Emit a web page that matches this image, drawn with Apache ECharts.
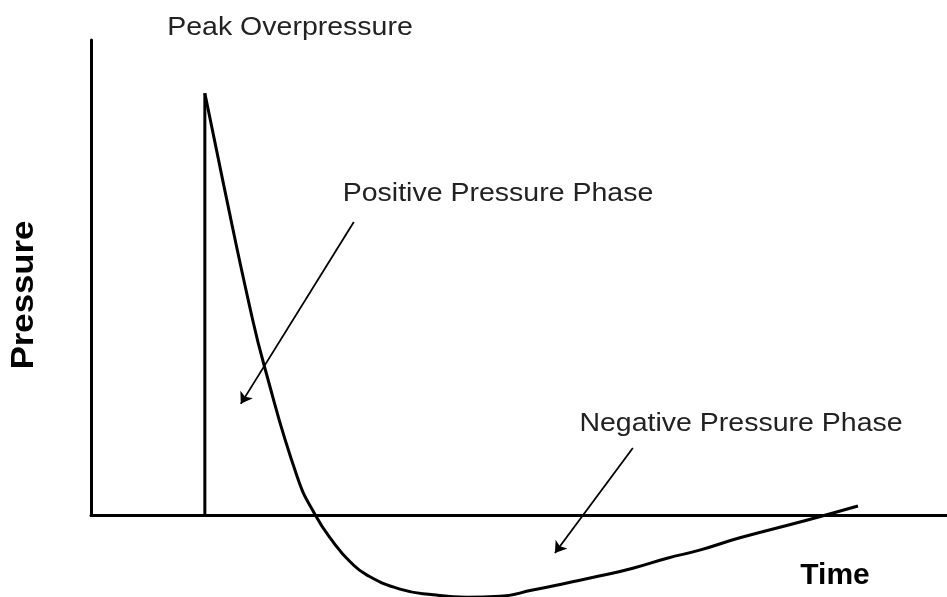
<!DOCTYPE html>
<html>
<head>
<meta charset="utf-8">
<script src="https://cdn.jsdelivr.net/npm/echarts@6/dist/echarts.min.js"></script>
<style>
  html, body { margin: 0; padding: 0; background: #fff; }
  #chart { width: 947px; height: 597px; }
</style>
</head>
<body>
<div id="chart"></div>
<script>
// blast wave values (time 0-100, pressure 0-100 above ambient)
var arrivalTime = 13.3;
var peakPressure = 88.8;
var timeValues = [13.3, 15.5, 18.5, 20.3, 24.1, 26.2, 28.3, 30.3, 32.2, 36.1, 40.0,
  43.9, 47.8, 51.6, 55.6, 59.5, 63.3, 67.3, 71.1, 75.8, 83.6, 89.6];
var pressureValues = [88.8, 69.5, 44.2, 31.0, 8.0, 0, -5.7, -9.9, -12.6, -15.6, -16.8,
  -17.3, -17.1, -15.8, -14.3, -12.8, -11.2, -9.1, -7.4, -4.8, -1.1, 1.9];

// annotation arrows, tail -> head
var arrowFrom = [[30.7, 61.7], [63.3, 14.1]];
var arrowTo = [[17.5, 23.4], [54.2, -8.0]];

var chartDom = document.getElementById('chart');
var myChart = echarts.init(chartDom);
var option;

var curve = timeValues.map(function (t, i) { return [t, pressureValues[i]]; });
var arrows = arrowFrom.map(function (a, i) { return { coords: [a, arrowTo[i]] }; });

function label(text, x, y, size, opts) {
  opts = opts || {};
  return {
    type: 'text',
    x: x,
    y: y,
    rotation: opts.rotation || 0,
    scaleX: opts.scaleX || 1,
    silent: true,
    style: {
      text: text,
      fontSize: size,
      fontFamily: '"Liberation Sans", Arial, sans-serif',
      fontWeight: opts.bold ? 'bold' : 'normal',
      fill: opts.color || '#222',
      align: 'center',
      verticalAlign: 'middle',
      textAlign: 'center',
      textVerticalAlign: 'middle'
    }
  };
}

option = {
  animation: false,
  backgroundColor: '#fff',
  grid: { left: 91, right: 0, top: 40, bottom: 82 },
  xAxis: {
    type: 'value',
    min: 0,
    max: 100,
    axisLine: { lineStyle: { color: '#000', width: 3 } },
    axisTick: { show: false },
    axisLabel: { show: false },
    splitLine: { show: false }
  },
  yAxis: {
    type: 'value',
    min: 0,
    max: 100,
    axisLine: { show: true, lineStyle: { color: '#000', width: 3 } },
    axisTick: { show: false },
    axisLabel: { show: false },
    splitLine: { show: false }
  },
  graphic: [
    label('Peak Overpressure', 290, 28, 25, { scaleX: 1.14 }),
    label('Positive Pressure Phase', 498, 194, 25, { scaleX: 1.14 }),
    label('Negative Pressure Phase', 741, 424, 25, { scaleX: 1.14 }),
    label('Pressure', 24, 295, 31, { bold: true, color: '#000', rotation: Math.PI / 2, scaleX: 1.12 }),
    label('Time', 835, 576, 30, { bold: true, color: '#000' })
  ],
  series: [
    {
      name: 'arrival',
      type: 'line',
      data: [[arrivalTime, 0], [arrivalTime, peakPressure]],
      symbol: 'none',
      lineStyle: { color: '#000', width: 3 },
      clip: false
    },
    {
      name: 'pressure',
      type: 'line',
      data: curve,
      smooth: 0.5,
      smoothConstraint: false,
      symbol: 'none',
      lineStyle: { color: '#000', width: 3 },
      clip: false
    },
    {
      name: 'arrows',
      type: 'lines',
      coordinateSystem: 'cartesian2d',
      data: arrows,
      symbol: ['none', 'arrow'],
      symbolSize: 11,
      lineStyle: { color: '#000', width: 1.8, opacity: 1, curveness: 0 },
      clip: false
    }
  ]
};

option && myChart.setOption(option);
</script>
</body>
</html>
